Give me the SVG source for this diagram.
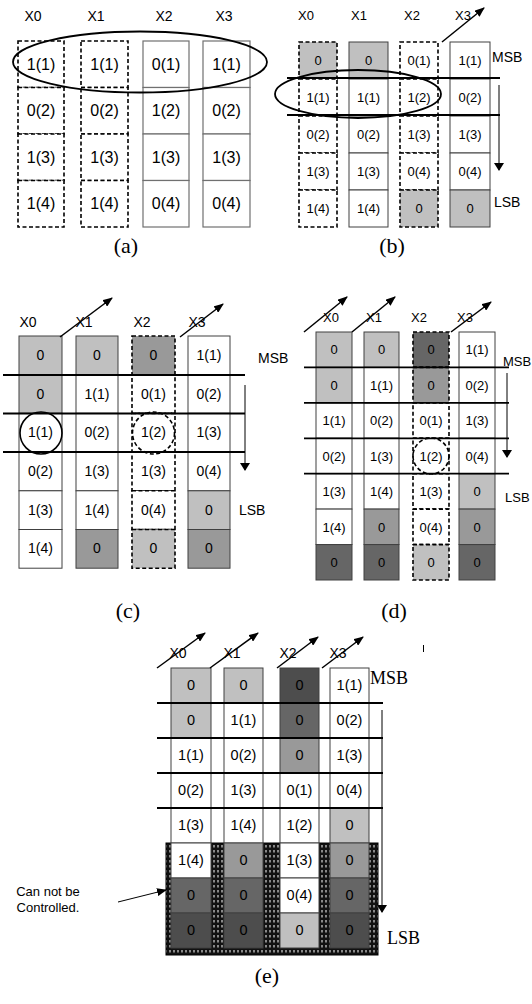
<svg xmlns="http://www.w3.org/2000/svg" width="532" height="1004" viewBox="0 0 532 1004">
<style>
.c{fill:#fff;stroke:#404040;stroke-width:1}
.ca{fill:#fff;stroke:#707070;stroke-width:1.2}
.d{fill:#fff;stroke:#000;stroke-width:1.6;stroke-dasharray:4 2.5}
.g1{fill:#c0c0c0}.g2{fill:#999}.g3{fill:#666}.g4{fill:#4d4d4d}
text{font-family:"Liberation Sans",Arial,sans-serif;text-anchor:middle;fill:#000}
.ta{font-size:16px}.tb{font-size:13px}.tc{font-size:14px}.td{font-size:13px}.te{font-size:14.5px}
.lab{font-size:14px}
.cap{font-family:"Liberation Serif","Times New Roman",serif;font-size:22px}
.ser{font-family:"Liberation Serif","Times New Roman",serif;font-size:18px;text-anchor:start}
.st{text-anchor:start}
.hl{stroke:#000;stroke-width:1.8;fill:none}
.ar{stroke:#000;stroke-width:1.5;fill:none;marker-end:url(#ah)}
.va{stroke:#000;stroke-width:1;fill:none;marker-end:url(#ah2)}
</style>
<defs>
<marker id="ah" markerWidth="10" markerHeight="8" refX="9" refY="4" orient="auto" markerUnits="userSpaceOnUse"><path d="M0,0 L10,4 L0,8 z" fill="#000"/></marker>
<marker id="ah2" markerWidth="8" markerHeight="10" refX="7" refY="5" orient="auto" markerUnits="userSpaceOnUse"><path d="M0,0 L8,5 L0,10 z" fill="#000"/></marker>
<pattern id="hatch" width="4" height="5" patternUnits="userSpaceOnUse"><rect width="4" height="5" fill="#111"/><rect x="1.5" y="0" width="1" height="2.5" fill="#fff"/></pattern>
</defs>
<rect width="532" height="1004" fill="#fff"/>

<!-- Panel (a) -->
<g id="panel-a">
<text class="lab" x="33" y="21">X0</text><text class="lab" x="96" y="21">X1</text><text class="lab" x="164" y="21">X2</text><text class="lab" x="224" y="21">X3</text>
<g id="a-x0">
<rect class="d" x="18" y="41" width="46" height="46.5"/><rect class="d" x="18" y="87.5" width="46" height="46.5"/><rect class="d" x="18" y="134" width="46" height="46.5"/><rect class="d" x="18" y="180.5" width="46" height="46.5"/>
<text class="ta" x="41" y="70">1(1)</text><text class="ta" x="41" y="116">0(2)</text><text class="ta" x="41" y="163">1(3)</text><text class="ta" x="41" y="209">1(4)</text>
</g>
<g id="a-x1">
<rect class="d" x="81" y="41" width="47" height="46.5"/><rect class="d" x="81" y="87.5" width="47" height="46.5"/><rect class="d" x="81" y="134" width="47" height="46.5"/><rect class="d" x="81" y="180.5" width="47" height="46.5"/>
<text class="ta" x="104.5" y="70">1(1)</text><text class="ta" x="104.5" y="116">0(2)</text><text class="ta" x="104.5" y="163">1(3)</text><text class="ta" x="104.5" y="209">1(4)</text>
</g>
<g id="a-x2">
<rect class="ca" x="143" y="41" width="46" height="46.5"/><rect class="ca" x="143" y="87.5" width="46" height="46.5"/><rect class="ca" x="143" y="134" width="46" height="46.5"/><rect class="ca" x="143" y="180.5" width="46" height="46.5"/>
<text class="ta" x="166" y="70">0(1)</text><text class="ta" x="166" y="116">1(2)</text><text class="ta" x="166" y="163">1(3)</text><text class="ta" x="166" y="209">0(4)</text>
</g>
<g id="a-x3">
<rect class="ca" x="203" y="41" width="47" height="46.5"/><rect class="ca" x="203" y="87.5" width="47" height="46.5"/><rect class="ca" x="203" y="134" width="47" height="46.5"/><rect class="ca" x="203" y="180.5" width="47" height="46.5"/>
<text class="ta" x="226.5" y="70">1(1)</text><text class="ta" x="226.5" y="116">0(2)</text><text class="ta" x="226.5" y="163">1(3)</text><text class="ta" x="226.5" y="209">0(4)</text>
</g>
<ellipse cx="140" cy="62" rx="127" ry="30.5" fill="none" stroke="#000" stroke-width="1.8"/>
<text class="cap" x="126" y="253">(a)</text>
</g>

<!-- Panel (b) -->
<g id="panel-b">
<text class="tb" x="306" y="20">X0</text><text class="tb" x="359" y="20">X1</text><text class="tb" x="412" y="20">X2</text><text class="tb" x="463" y="20">X3</text>
<g id="b-x0">
<rect class="d g1" x="299" y="42" width="38" height="37"/><rect class="d" x="299" y="79" width="38" height="37"/><rect class="d" x="299" y="116" width="38" height="37"/><rect class="d" x="299" y="153" width="38" height="37"/><rect class="d" x="299" y="190" width="38" height="37"/>
<text class="tb" x="318" y="65">0</text><text class="tb" x="318" y="102">1(1)</text><text class="tb" x="318" y="139">0(2)</text><text class="tb" x="318" y="176">1(3)</text><text class="tb" x="318" y="213">1(4)</text>
</g>
<g id="b-x1">
<rect class="c g1" x="349" y="42" width="39" height="37"/><rect class="c" x="349" y="79" width="39" height="37"/><rect class="c" x="349" y="116" width="39" height="37"/><rect class="c" x="349" y="153" width="39" height="37"/><rect class="c" x="349" y="190" width="39" height="37"/>
<text class="tb" x="368.5" y="65">0</text><text class="tb" x="368.5" y="102">1(1)</text><text class="tb" x="368.5" y="139">0(2)</text><text class="tb" x="368.5" y="176">1(3)</text><text class="tb" x="368.5" y="213">1(4)</text>
</g>
<g id="b-x2">
<rect class="d" x="400" y="42" width="38" height="37"/><rect class="d" x="400" y="79" width="38" height="37"/><rect class="d" x="400" y="116" width="38" height="37"/><rect class="d" x="400" y="153" width="38" height="37"/><rect class="d g1" x="400" y="190" width="38" height="37"/>
<text class="tb" x="419" y="65">0(1)</text><text class="tb" x="419" y="102">1(2)</text><text class="tb" x="419" y="139">1(3)</text><text class="tb" x="419" y="176">0(4)</text><text class="tb" x="419" y="213">0</text>
</g>
<g id="b-x3">
<rect class="c" x="450" y="42" width="40" height="37"/><rect class="c" x="450" y="79" width="40" height="37"/><rect class="c" x="450" y="116" width="40" height="37"/><rect class="c" x="450" y="153" width="40" height="37"/><rect class="c g1" x="450" y="190" width="40" height="37"/>
<text class="tb" x="470" y="65">1(1)</text><text class="tb" x="470" y="102">0(2)</text><text class="tb" x="470" y="139">1(3)</text><text class="tb" x="470" y="176">0(4)</text><text class="tb" x="470" y="213">0</text>
</g>
<text class="lab st" x="492" y="62">MSB</text>
<text class="lab st" x="494" y="207">LSB</text>
<text class="cap" x="392" y="253">(b)</text>
</g>

<!-- Panel (c) -->
<g id="panel-c">
<text class="lab" x="28" y="327">X0</text><text class="lab" x="84" y="327">X1</text><text class="lab" x="142" y="327">X2</text><text class="lab" x="197" y="327">X3</text>
<g id="c-x0">
<rect class="c g1" x="19" y="336" width="43" height="38.7"/><rect class="c g1" x="19" y="374.7" width="43" height="38.7"/><rect class="c" x="19" y="413.4" width="43" height="38.7"/><rect class="c" x="19" y="452.1" width="43" height="38.7"/><rect class="c" x="19" y="490.8" width="43" height="38.7"/><rect class="c" x="19" y="529.5" width="43" height="38.7"/>
<text class="tc" x="40.5" y="360">0</text><text class="tc" x="40.5" y="398.5">0</text><text class="tc" x="40.5" y="437">1(1)</text><text class="tc" x="40.5" y="476">0(2)</text><text class="tc" x="40.5" y="514.5">1(3)</text><text class="tc" x="40.5" y="553">1(4)</text>
</g>
<g id="c-x1">
<rect class="c g1" x="76" y="336" width="42" height="38.7"/><rect class="c" x="76" y="374.7" width="42" height="38.7"/><rect class="c" x="76" y="413.4" width="42" height="38.7"/><rect class="c" x="76" y="452.1" width="42" height="38.7"/><rect class="c" x="76" y="490.8" width="42" height="38.7"/><rect class="c g2" x="76" y="529.5" width="42" height="38.7"/>
<text class="tc" x="97" y="360">0</text><text class="tc" x="97" y="398.5">1(1)</text><text class="tc" x="97" y="437">0(2)</text><text class="tc" x="97" y="476">1(3)</text><text class="tc" x="97" y="514.5">1(4)</text><text class="tc" x="97" y="553">0</text>
</g>
<g id="c-x2">
<rect class="d g2" x="132" y="336" width="43" height="38.7"/><rect class="d" x="132" y="374.7" width="43" height="38.7"/><rect class="d" x="132" y="413.4" width="43" height="38.7"/><rect class="d" x="132" y="452.1" width="43" height="38.7"/><rect class="d" x="132" y="490.8" width="43" height="38.7"/><rect class="d g1" x="132" y="529.5" width="43" height="38.7"/>
<text class="tc" x="153.5" y="360">0</text><text class="tc" x="153.5" y="398.5">0(1)</text><text class="tc" x="153.5" y="437">1(2)</text><text class="tc" x="153.5" y="476">1(3)</text><text class="tc" x="153.5" y="514.5">0(4)</text><text class="tc" x="153.5" y="553">0</text>
</g>
<g id="c-x3">
<rect class="c" x="188" y="336" width="42" height="38.7"/><rect class="c" x="188" y="374.7" width="42" height="38.7"/><rect class="c" x="188" y="413.4" width="42" height="38.7"/><rect class="c" x="188" y="452.1" width="42" height="38.7"/><rect class="c g1" x="188" y="490.8" width="42" height="38.7"/><rect class="c g2" x="188" y="529.5" width="42" height="38.7"/>
<text class="tc" x="209" y="360">1(1)</text><text class="tc" x="209" y="398.5">0(2)</text><text class="tc" x="209" y="437">1(3)</text><text class="tc" x="209" y="476">0(4)</text><text class="tc" x="209" y="514.5">0</text><text class="tc" x="209" y="553">0</text>
</g>
<circle cx="41" cy="433" r="21" fill="none" stroke="#000" stroke-width="1.6"/>
<circle cx="153.5" cy="433" r="21" fill="none" stroke="#000" stroke-width="1.6" stroke-dasharray="4 2.5"/>
<text class="lab st" x="258" y="363">MSB</text>
<text class="lab st" x="239" y="515">LSB</text>
<text class="cap" x="128" y="618">(c)</text>
</g>

<!-- Panel (d) -->
<g id="panel-d">
<text class="td" x="331" y="322">X0</text><text class="td" x="374" y="322">X1</text><text class="td" x="419" y="322">X2</text><text class="td" x="465" y="322">X3</text>
<g id="d-x0">
<rect class="c g1" x="316" y="332" width="36" height="35.4"/><rect class="c g1" x="316" y="367.4" width="36" height="35.4"/><rect class="c" x="316" y="402.9" width="36" height="35.4"/><rect class="c" x="316" y="438.3" width="36" height="35.4"/><rect class="c" x="316" y="473.7" width="36" height="35.4"/><rect class="c" x="316" y="509.1" width="36" height="35.4"/><rect class="c g3" x="316" y="544.6" width="36" height="35.4"/>
<text class="td" x="334" y="354">0</text><text class="td" x="334" y="389.5">0</text><text class="td" x="334" y="425">1(1)</text><text class="td" x="334" y="460.5">0(2)</text><text class="td" x="334" y="496">1(3)</text><text class="td" x="334" y="531.5">1(4)</text><text class="td" x="334" y="567">0</text>
</g>
<g id="d-x1">
<rect class="c g1" x="364" y="332" width="35" height="35.4"/><rect class="c" x="364" y="367.4" width="35" height="35.4"/><rect class="c" x="364" y="402.9" width="35" height="35.4"/><rect class="c" x="364" y="438.3" width="35" height="35.4"/><rect class="c" x="364" y="473.7" width="35" height="35.4"/><rect class="c g2" x="364" y="509.1" width="35" height="35.4"/><rect class="c g3" x="364" y="544.6" width="35" height="35.4"/>
<text class="td" x="381.5" y="354">0</text><text class="td" x="381.5" y="389.5">1(1)</text><text class="td" x="381.5" y="425">0(2)</text><text class="td" x="381.5" y="460.5">1(3)</text><text class="td" x="381.5" y="496">1(4)</text><text class="td" x="381.5" y="531.5">0</text><text class="td" x="381.5" y="567">0</text>
</g>
<g id="d-x2">
<rect class="d g3" x="413" y="332" width="36" height="35.4"/><rect class="d g2" x="413" y="367.4" width="36" height="35.4"/><rect class="d" x="413" y="402.9" width="36" height="35.4"/><rect class="d" x="413" y="438.3" width="36" height="35.4"/><rect class="d" x="413" y="473.7" width="36" height="35.4"/><rect class="d" x="413" y="509.1" width="36" height="35.4"/><rect class="d g1" x="413" y="544.6" width="36" height="35.4"/>
<text class="td" x="431" y="354">0</text><text class="td" x="431" y="389.5">0</text><text class="td" x="431" y="425">0(1)</text><text class="td" x="431" y="460.5">1(2)</text><text class="td" x="431" y="496">1(3)</text><text class="td" x="431" y="531.5">0(4)</text><text class="td" x="431" y="567">0</text>
</g>
<g id="d-x3">
<rect class="c" x="459" y="332" width="36" height="35.4"/><rect class="c" x="459" y="367.4" width="36" height="35.4"/><rect class="c" x="459" y="402.9" width="36" height="35.4"/><rect class="c" x="459" y="438.3" width="36" height="35.4"/><rect class="c g1" x="459" y="473.7" width="36" height="35.4"/><rect class="c g2" x="459" y="509.1" width="36" height="35.4"/><rect class="c g3" x="459" y="544.6" width="36" height="35.4"/>
<text class="td" x="477" y="354">1(1)</text><text class="td" x="477" y="389.5">0(2)</text><text class="td" x="477" y="425">1(3)</text><text class="td" x="477" y="460.5">0(4)</text><text class="td" x="477" y="496">0</text><text class="td" x="477" y="531.5">0</text><text class="td" x="477" y="567">0</text>
</g>
<circle cx="431" cy="456" r="18" fill="none" stroke="#000" stroke-width="1.6" stroke-dasharray="4 2.5"/>
<text class="td st" x="503" y="366">MSB</text>
<text class="td st" x="505" y="502">LSB</text>
<text class="cap" x="394" y="618">(d)</text>
</g>

<!-- Panel (e) -->
<g id="panel-e">
<rect x="166" y="843" width="212" height="112" fill="url(#hatch)" stroke="#000" stroke-width="1"/>
<text class="lab" x="178" y="658">X0</text><text class="lab" x="232" y="658">X1</text><text class="lab" x="288" y="658">X2</text><text class="lab" x="338" y="658">X3</text>
<g id="e-x0">
<rect class="c g1" x="171" y="668" width="40" height="35"/><rect class="c g1" x="171" y="703" width="40" height="35"/><rect class="c" x="171" y="738" width="40" height="35"/><rect class="c" x="171" y="773" width="40" height="35"/><rect class="c" x="171" y="808" width="40" height="35"/><rect class="c" x="171" y="843" width="40" height="35"/><rect class="c g3" x="171" y="878" width="40" height="35"/><rect class="c g4" x="171" y="913" width="40" height="35"/>
<text class="te" x="191" y="690">0</text><text class="te" x="191" y="725">0</text><text class="te" x="191" y="760">1(1)</text><text class="te" x="191" y="795">0(2)</text><text class="te" x="191" y="830">1(3)</text><text class="te" x="191" y="865">1(4)</text><text class="te" x="191" y="900">0</text><text class="te" x="191" y="935">0</text>
</g>
<g id="e-x1">
<rect class="c g1" x="224" y="668" width="39" height="35"/><rect class="c" x="224" y="703" width="39" height="35"/><rect class="c" x="224" y="738" width="39" height="35"/><rect class="c" x="224" y="773" width="39" height="35"/><rect class="c" x="224" y="808" width="39" height="35"/><rect class="c g2" x="224" y="843" width="39" height="35"/><rect class="c g3" x="224" y="878" width="39" height="35"/><rect class="c g4" x="224" y="913" width="39" height="35"/>
<text class="te" x="243.5" y="690">0</text><text class="te" x="243.5" y="725">1(1)</text><text class="te" x="243.5" y="760">0(2)</text><text class="te" x="243.5" y="795">1(3)</text><text class="te" x="243.5" y="830">1(4)</text><text class="te" x="243.5" y="865">0</text><text class="te" x="243.5" y="900">0</text><text class="te" x="243.5" y="935">0</text>
</g>
<g id="e-x2">
<rect class="c g4" x="280" y="668" width="39" height="35"/><rect class="c g3" x="280" y="703" width="39" height="35"/><rect class="c g2" x="280" y="738" width="39" height="35"/><rect class="c" x="280" y="773" width="39" height="35"/><rect class="c" x="280" y="808" width="39" height="35"/><rect class="c" x="280" y="843" width="39" height="35"/><rect class="c" x="280" y="878" width="39" height="35"/><rect class="c g1" x="280" y="913" width="39" height="35"/>
<text class="te" x="299.5" y="690">0</text><text class="te" x="299.5" y="725">0</text><text class="te" x="299.5" y="760">0</text><text class="te" x="299.5" y="795">0(1)</text><text class="te" x="299.5" y="830">1(2)</text><text class="te" x="299.5" y="865">1(3)</text><text class="te" x="299.5" y="900">0(4)</text><text class="te" x="299.5" y="935">0</text>
</g>
<g id="e-x3">
<rect class="c" x="330" y="668" width="39" height="35"/><rect class="c" x="330" y="703" width="39" height="35"/><rect class="c" x="330" y="738" width="39" height="35"/><rect class="c" x="330" y="773" width="39" height="35"/><rect class="c g1" x="330" y="808" width="39" height="35"/><rect class="c g2" x="330" y="843" width="39" height="35"/><rect class="c g3" x="330" y="878" width="39" height="35"/><rect class="c g4" x="330" y="913" width="39" height="35"/>
<text class="te" x="349.5" y="690">1(1)</text><text class="te" x="349.5" y="725">0(2)</text><text class="te" x="349.5" y="760">1(3)</text><text class="te" x="349.5" y="795">0(4)</text><text class="te" x="349.5" y="830">0</text><text class="te" x="349.5" y="865">0</text><text class="te" x="349.5" y="900">0</text><text class="te" x="349.5" y="935">0</text>
</g>
<text class="ser" x="370" y="684">MSB</text>
<text class="ser" x="387" y="944">LSB</text>
<text style="font-size:13px" x="48" y="896">Can not be</text>
<text style="font-size:13px" x="48" y="912">Controlled.</text>
<line x1="423.5" y1="645" x2="423.5" y2="652" stroke="#000" stroke-width="1"/>
<text class="cap" x="267" y="983">(e)</text>
</g>

<!-- Connectors -->
<g id="connectors">
<line class="hl" x1="287" y1="78" x2="500" y2="78"/>
<line class="hl" x1="287" y1="115" x2="500" y2="115"/>
<ellipse cx="358" cy="94" rx="83" ry="24" fill="none" stroke="#000" stroke-width="1.8"/>
<line class="ar" x1="442" y1="42" x2="484" y2="8"/>
<line class="va" x1="499" y1="85" x2="499" y2="170"/>

<line class="hl" x1="3" y1="375" x2="245" y2="375"/>
<line class="hl" x1="3" y1="413.5" x2="245" y2="413.5"/>
<line class="hl" x1="3" y1="452" x2="245" y2="452"/>
<line class="ar" x1="60" y1="337" x2="112" y2="298"/>
<line class="ar" x1="180" y1="337" x2="223" y2="304"/>
<line class="va" x1="245" y1="385" x2="245" y2="470"/>

<line class="hl" x1="304" y1="367.4" x2="509" y2="367.4"/>
<line class="hl" x1="304" y1="402.9" x2="509" y2="402.9"/>
<line class="hl" x1="304" y1="438.3" x2="509" y2="438.3"/>
<line class="hl" x1="304" y1="473.7" x2="509" y2="473.7"/>
<line class="ar" x1="304" y1="332" x2="347" y2="297"/>
<line class="ar" x1="352" y1="332" x2="395" y2="297"/>
<line class="ar" x1="451" y1="332" x2="491" y2="302"/>
<line class="va" x1="507" y1="373" x2="507" y2="457"/>

<line class="hl" x1="157" y1="703" x2="383" y2="703"/>
<line class="hl" x1="157" y1="738" x2="383" y2="738"/>
<line class="hl" x1="157" y1="773" x2="383" y2="773"/>
<line class="hl" x1="157" y1="808" x2="383" y2="808"/>
<line class="ar" x1="157" y1="668" x2="205" y2="633"/>
<line class="ar" x1="210" y1="668" x2="258" y2="633"/>
<line class="ar" x1="277" y1="668" x2="318" y2="637"/>
<line class="ar" x1="322" y1="668" x2="363" y2="637"/>
<line class="va" x1="382" y1="710" x2="382" y2="912"/>
<line class="ar" x1="118" y1="902" x2="166" y2="890" style="stroke-width:1"/>
</g>
</svg>
